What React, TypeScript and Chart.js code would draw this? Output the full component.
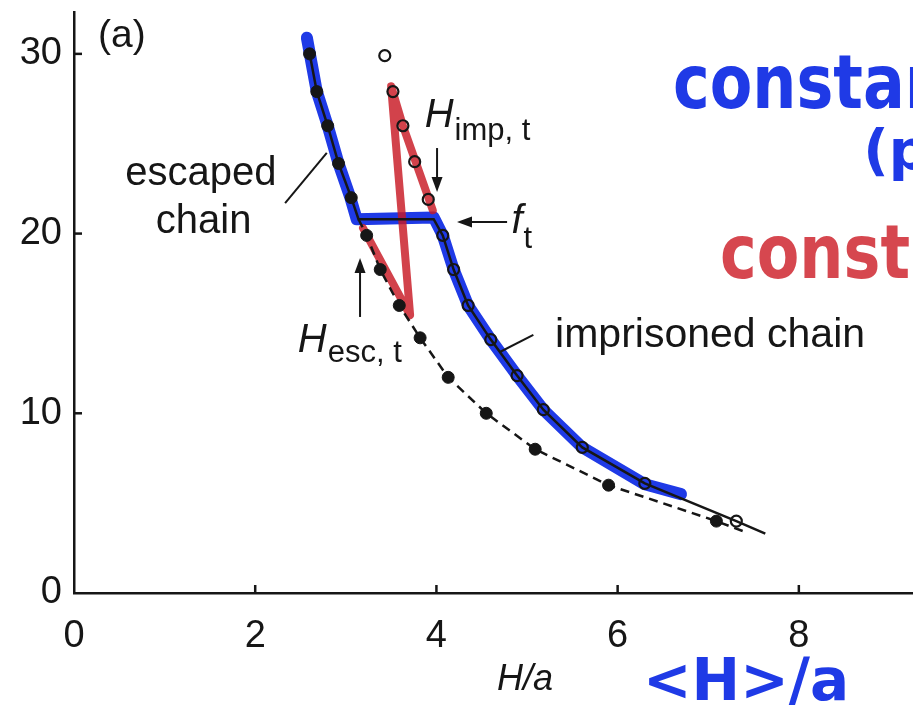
import React, { useEffect, useRef } from 'react';
import { Chart, registerables } from 'chart.js';
Chart.register(...registerables);

// ---- tick values ----
const X_TICKS = [0, 2, 4, 6, 8];
const Y_TICKS = [0, 10, 20, 30];
const X_MAX = 9.26;
const Y_MAX = 32.33;

// ---- escaped chain (filled circles) ----
const escapedX = [2.60, 2.68, 2.80, 2.92, 3.06, 3.23, 3.38, 3.59, 3.82, 4.13, 4.55, 5.09, 5.90, 7.09];
const escapedY = [30.0, 27.9, 26.0, 23.9, 22.0, 19.9, 18.0, 16.0, 14.2, 12.0, 10.0, 8.0, 6.0, 4.0];

// ---- imprisoned chain (open circles) ----
const imprisonedX = [3.43, 3.52, 3.63, 3.76, 3.91, 4.07, 4.19, 4.35, 4.60, 4.89, 5.18, 5.61, 6.30, 7.31];
const imprisonedY = [29.9, 27.9, 26.0, 24.0, 21.9, 19.9, 18.0, 16.0, 14.1, 12.1, 10.2, 8.1, 6.1, 4.0];

// ---- solid curve (escaped -> plateau f_t -> imprisoned) ----
const solidX = [2.59, 2.68, 2.80, 2.92, 3.06, 3.14, 3.97, 4.07, 4.19, 4.35, 4.60, 4.89, 5.18, 5.61, 6.30, 7.31, 7.63];
const solidY = [30.3, 27.9, 26.0, 23.9, 22.0, 20.8, 20.8, 19.9, 18.0, 16.0, 14.1, 12.1, 10.2, 8.1, 6.1, 4.0, 3.3];

// ---- dashed curve (escaped branch) ----
const dashedX = [3.14, 3.23, 3.38, 3.59, 3.82, 4.13, 4.55, 5.09, 5.90, 7.09, 7.38];
const dashedY = [20.8, 19.9, 18.0, 16.0, 14.2, 12.0, 10.0, 8.0, 6.0, 4.0, 3.45];

// ---- hand-drawn highlights ----
const blueX = [2.57, 2.68, 2.80, 2.92, 3.05, 3.12, 3.97, 4.07, 4.19, 4.35, 4.60, 4.89, 5.18, 5.61, 6.30, 6.70];
const blueY = [30.9, 27.9, 26.0, 23.9, 22.0, 20.8, 20.9, 19.9, 18.0, 16.0, 14.1, 12.1, 10.2, 8.1, 6.05, 5.5];
const redX = [3.19, 3.71, 3.50, 3.63, 3.77, 3.96];
const redY = [20.3, 15.45, 28.2, 26.0, 24.0, 21.3];

const pts = (xs: number[], ys: number[]) => xs.map((x, i) => ({ x, y: ys[i] }));

const FONT = '"Liberation Sans", Arial, Helvetica, sans-serif';
const HAND = '"DejaVu Sans", sans-serif';
const BLUE = '#1f3ae6';
const RED = 'rgba(200,25,35,0.82)';
const INK = '#161616';

const annotPlugin = {
  id: 'annot',
  afterDatasetsDraw(chart: any) {
    const { ctx, scales } = chart;
    const xs = scales.x, ys = scales.y;
    const px = (v: number) => xs.getPixelForValue(v);
    const py = (v: number) => ys.getPixelForValue(v);
    ctx.save();
    // inner tick marks
    ctx.strokeStyle = INK;
    ctx.lineWidth = 2.5;
    X_TICKS.filter(v => v > 0).forEach(v => {
      ctx.beginPath(); ctx.moveTo(px(v), py(0)); ctx.lineTo(px(v), py(0) - 8); ctx.stroke();
    });
    Y_TICKS.filter(v => v > 0).forEach(v => {
      ctx.beginPath(); ctx.moveTo(px(0), py(v)); ctx.lineTo(px(0) + 8, py(v)); ctx.stroke();
    });

    const text = (t: string, x: number, y: number, font: string, align: CanvasTextAlign = 'left', color = INK) => {
      ctx.font = font; ctx.fillStyle = color; ctx.textAlign = align; ctx.textBaseline = 'alphabetic';
      ctx.fillText(t, px(x), py(y));
    };
    const line = (x1: number, y1: number, x2: number, y2: number, w = 2) => {
      ctx.strokeStyle = INK; ctx.lineWidth = w; ctx.setLineDash([]);
      ctx.beginPath(); ctx.moveTo(px(x1), py(y1)); ctx.lineTo(px(x2), py(y2)); ctx.stroke();
    };
    const arrow = (x1: number, y1: number, x2: number, y2: number) => {
      const ax = px(x1), ay = py(y1), bx = px(x2), by = py(y2);
      const ang = Math.atan2(by - ay, bx - ax);
      const L = 15, W = 5.5;
      ctx.strokeStyle = INK; ctx.fillStyle = INK; ctx.lineWidth = 2;
      ctx.beginPath(); ctx.moveTo(ax, ay); ctx.lineTo(bx - Math.cos(ang) * L * 0.8, by - Math.sin(ang) * L * 0.8); ctx.stroke();
      ctx.beginPath();
      ctx.moveTo(bx, by);
      ctx.lineTo(bx - Math.cos(ang) * L - Math.sin(ang) * W, by - Math.sin(ang) * L + Math.cos(ang) * W);
      ctx.lineTo(bx - Math.cos(ang) * L + Math.sin(ang) * W, by - Math.sin(ang) * L - Math.cos(ang) * W);
      ctx.closePath(); ctx.fill();
    };

    // panel label
    text('(a)', 0.265, 30.4, `39px ${FONT}`);
    // escaped chain
    text('escaped', 1.40, 22.70, `40px ${FONT}`, 'center');
    text('chain', 1.43, 20.03, `40px ${FONT}`, 'center');
    line(2.33, 21.70, 2.79, 24.49);
    // imprisoned chain
    text('imprisoned chain', 5.31, 13.69, `41px ${FONT}`);
    line(4.70, 13.41, 5.07, 14.36);
    // H_imp,t
    text('H', 3.87, 25.93, `italic 40px ${FONT}`);
    text('imp, t', 4.20, 25.21, `31px ${FONT}`);
    arrow(4.007, 24.76, 4.007, 22.31);
    // f_t
    arrow(4.78, 20.65, 4.227, 20.65);
    text('f', 4.83, 20.03, `italic 40px ${FONT}`);
    text('t', 4.96, 19.20, `31px ${FONT}`);
    // H_esc,t
    arrow(3.157, 15.36, 3.157, 18.64);
    text('H', 2.47, 13.41, `italic 40px ${FONT}`);
    text('esc, t', 2.80, 12.85, `31px ${FONT}`);
    // axis title
    text('H/a', 4.67, -5.40, `italic 36px ${FONT}`);

    // hand-written annotations
    const hand = (t: string, x: number, y: number, size: number, color: string, sy = 1.2) => {
      ctx.save();
      ctx.translate(px(x), py(y));
      ctx.scale(1, sy);
      ctx.font = `bold ${size}px ${HAND}`;
      ctx.fillStyle = color; ctx.textAlign = 'left'; ctx.textBaseline = 'alphabetic';
      ctx.fillText(t, 0, 0);
      ctx.restore();
    };
    hand('constant', 6.61, 26.99, 62, BLUE);
    hand('(p', 8.71, 23.6, 56, BLUE, 1.0);
    hand('const', 7.13, 17.53, 62, 'rgba(208,45,55,0.88)');
    hand('<H>/a', 6.28, -5.95, 58, BLUE, 1.0);
    ctx.restore();
  },
};

export default function App() {
  const ref = useRef<HTMLCanvasElement | null>(null);
  useEffect(() => {
    document.body.style.margin = '0';
    const c = ref.current!;
    const chart = new Chart(c, {
      type: 'scatter',
      data: {
        datasets: [
          { label: 'blue', data: pts(blueX, blueY), showLine: true, borderColor: BLUE, borderWidth: 12, pointRadius: 0, borderCapStyle: 'round', borderJoinStyle: 'round', order: 10 } as any,
          { label: 'red', data: pts(redX, redY), showLine: true, borderColor: RED, borderWidth: 8, pointRadius: 0, borderCapStyle: 'round', borderJoinStyle: 'round', order: 9 } as any,
          { label: 'solid', data: pts(solidX, solidY), showLine: true, borderColor: INK, borderWidth: 2.5, pointRadius: 0, order: 5 } as any,
          { label: 'dashed', data: pts(dashedX, dashedY), showLine: true, borderColor: INK, borderWidth: 2.5, borderDash: [9, 6], pointRadius: 0, order: 5 } as any,
          { label: 'escaped', data: pts(escapedX, escapedY), showLine: false, pointRadius: 6, pointBackgroundColor: INK, pointBorderColor: INK, pointBorderWidth: 1, order: 1 } as any,
          { label: 'imprisoned', data: pts(imprisonedX, imprisonedY), showLine: false, pointRadius: 5.5, pointBackgroundColor: 'rgba(0,0,0,0)', pointBorderColor: INK, pointBorderWidth: 2.2, order: 1 } as any,
        ],
      },
      options: {
        responsive: false,
        animation: false,
        devicePixelRatio: 1,
        layout: { autoPadding: false, padding: { top: 12, left: 0, right: 0, bottom: 0 } },
        plugins: { legend: { display: false }, tooltip: { enabled: false } },
        scales: {
          x: {
            type: 'linear', min: 0, max: X_MAX,
            grid: { display: false, drawTicks: false },
            border: { display: true, color: INK, width: 2.5 },
            ticks: { font: { family: FONT, size: 38 }, color: INK, padding: 21, maxRotation: 0, autoSkip: false },
            afterBuildTicks: (s: any) => { s.ticks = X_TICKS.map(v => ({ value: v })); },
            afterFit: (s: any) => { s.height = 114; s.paddingLeft = 0; s.paddingRight = 0; },
          },
          y: {
            type: 'linear', min: 0, max: Y_MAX,
            grid: { display: false, drawTicks: false },
            border: { display: true, color: INK, width: 2.5 },
            ticks: { font: { family: FONT, size: 38 }, color: INK, padding: 12, autoSkip: false },
            afterBuildTicks: (s: any) => { s.ticks = Y_TICKS.map(v => ({ value: v })); },
            afterFit: (s: any) => { s.width = 74; s.paddingTop = 0; s.paddingBottom = 0; },
          },
        },
      } as any,
      plugins: [annotPlugin],
    });
    return () => chart.destroy();
  }, []);
  return (
    <div style={{ position: 'absolute', left: 0, top: 0, width: 913, height: 707, background: '#fff' }}>
      <canvas ref={ref} width={913} height={707} style={{ width: 913, height: 707, display: 'block' }} />
    </div>
  );
}
